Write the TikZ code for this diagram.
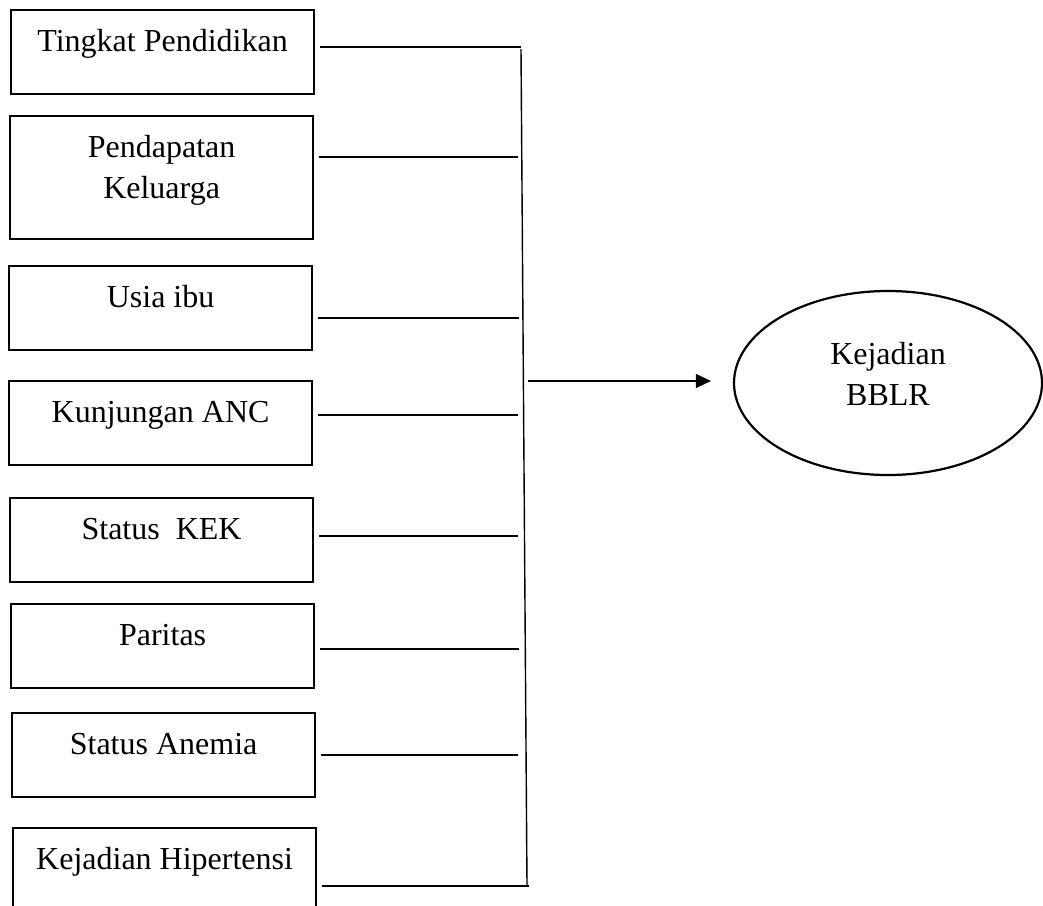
\documentclass[tikz,border=0pt]{standalone}
\usepackage{fontspec}
\setmainfont{Liberation Serif}
\usetikzlibrary{shapes.geometric,arrows.meta}

\tikzset{
  varbox/.style={draw, line width=1.1pt, anchor=north west, align=center,
    minimum width=151.5pt, inner xsep=2pt, inner ysep=0pt,
    text height=20.5pt, text depth=21.5pt},
  link/.style={line width=0.7pt, shorten <=2.5pt},
}

\begin{document}
\begin{tikzpicture}[x=0.5pt, y=-0.5pt, font=\fontsize{16}{20.5}\selectfont]

    \useasboundingbox (0,0) rectangle (1043,905);

    \node[varbox] (pddk) at (10,9) {Tingkat Pendidikan};
    \node[varbox, text height=41pt, text depth=20.5pt] (pdpt) at (9,115) {Pendapatan\\Keluarga};
    \node[varbox] (usia) at (8,265) {Usia ibu};
    \node[varbox] (anc) at (8,380) {Kunjungan ANC};
    \node[varbox] (kek) at (9,497) {Status~~KEK};
    \node[varbox] (par) at (10,603) {Paritas};
    \node[varbox] (anem) at (11,712) {Status Anemia};
    \node[varbox] (hipt) at (12,827) {Kejadian Hipertensi};

    \node[ellipse, draw, line width=1.1pt, minimum width=154pt, minimum height=92pt,
          inner sep=0pt, align=center, text height=30pt, text depth=8pt] (bblr) at (888,383) {Kejadian\\BBLR};

    \coordinate (j1) at (521,47);
    \coordinate (j2) at (518,157);
    \coordinate (j3) at (519,318);
    \coordinate (j4) at (518,415);
    \coordinate (j5) at (518,536);
    \coordinate (j6) at (519,649);
    \coordinate (j7) at (518,755);
    \coordinate (j8) at (529,886);
    \coordinate (bustop) at (521,49);
    \coordinate (busbot) at (527,886);
    \coordinate (busmid) at (528,381);

    \draw[link] (pddk.east |- j1) -- (j1);
    \draw[link] (pdpt.east |- j2) -- (j2);
    \draw[link] (usia.east |- j3) -- (j3);
    \draw[link] (anc.east |- j4) -- (j4);
    \draw[link] (kek.east |- j5) -- (j5);
    \draw[link] (par.east |- j6) -- (j6);
    \draw[link] (anem.east |- j7) -- (j7);
    \draw[link] (hipt.east |- j8) -- (j8);

    \draw[line width=0.7pt] (bustop) -- (busbot);
    \draw[line width=0.7pt, -{Triangle[length=7.5pt,width=7pt]}, shorten >=11pt] (busmid) -- (busmid -| bblr.west);

\end{tikzpicture}
\end{document}
